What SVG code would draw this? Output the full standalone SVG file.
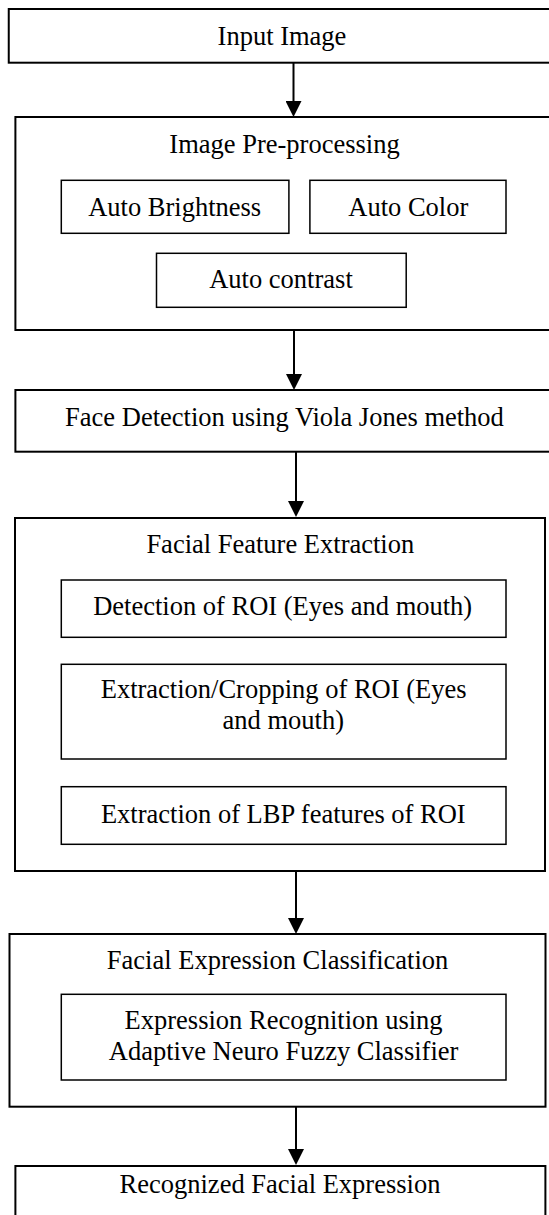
<svg xmlns="http://www.w3.org/2000/svg" width="549" height="1215" viewBox="0 0 549 1215">
<defs>
<style>
.outer{fill:#fff;stroke:#000;stroke-width:2}
.inner{fill:#fff;stroke:#000;stroke-width:1.5}
.t{font-family:"Liberation Serif","Times New Roman",serif;font-size:26.5px;fill:#000;text-anchor:middle}
.conn{stroke:#000;stroke-width:2;fill:none}
</style>
<marker id="ah" markerUnits="userSpaceOnUse" markerWidth="16" markerHeight="16" refX="0" refY="8" orient="auto">
<path d="M0,0 L16,8 L0,16 z" fill="#000"/>
</marker>
</defs>
<rect width="549" height="1215" fill="#fff"/>
<g id="input-image">
<rect class="outer" x="8.75" y="9" width="545" height="53.7"/>
<text class="t" x="282" y="45">Input Image</text>
</g>
<g id="preprocessing">
<rect class="outer" x="15.4" y="117" width="540" height="213"/>
<text class="t" x="284.5" y="152.7">Image Pre-processing</text>
</g>
<g id="auto-brightness">
<rect class="inner" x="61.3" y="180.3" width="227.6" height="53"/>
<text class="t" x="174.7" y="216">Auto Brightness</text>
</g>
<g id="auto-color">
<rect class="inner" x="309.9" y="180.3" width="196.1" height="53"/>
<text class="t" x="408.3" y="216">Auto Color</text>
</g>
<g id="auto-contrast">
<rect class="inner" x="156.5" y="253.3" width="249.7" height="54"/>
<text class="t" x="281" y="288.3">Auto contrast</text>
</g>
<g id="face-detection">
<rect class="outer" x="15.4" y="390" width="540" height="61.7"/>
<text class="t" x="284.5" y="426">Face Detection using Viola Jones method</text>
</g>
<g id="feature-extraction">
<rect class="outer" x="15" y="518" width="530" height="353"/>
<text class="t" x="280.3" y="553.3">Facial Feature Extraction</text>
</g>
<g id="roi-detection">
<rect class="inner" x="61.3" y="580" width="444.7" height="57.3"/>
<text class="t" x="282.7" y="615">Detection of ROI (Eyes and mouth)</text>
</g>
<g id="roi-cropping">
<rect class="inner" x="61.3" y="664.3" width="444.7" height="94.7"/>
<text class="t" x="283.6" y="698.3">Extraction/Cropping of ROI (Eyes</text>
<text class="t" x="283.3" y="729">and mouth)</text>
</g>
<g id="lbp-features">
<rect class="inner" x="61.3" y="786.7" width="444.7" height="57.6"/>
<text class="t" x="283.3" y="823.3">Extraction of LBP features of ROI</text>
</g>
<g id="expression-classification">
<rect class="outer" x="9.5" y="934" width="536" height="172.7"/>
<text class="t" x="277.6" y="969.3">Facial Expression Classification</text>
</g>
<g id="anfc">
<rect class="inner" x="61.3" y="994.3" width="444.7" height="85.7"/>
<text class="t" x="283.6" y="1029.3">Expression Recognition using</text>
<text class="t" x="283.6" y="1060">Adaptive Neuro Fuzzy Classifier</text>
</g>
<g id="recognized-expression">
<rect class="outer" x="15.4" y="1166" width="530" height="60"/>
<text class="t" x="280" y="1192.7">Recognized Facial Expression</text>
</g>
<g id="connectors">
<line class="conn" x1="293.5" y1="62.7" x2="293.5" y2="101" marker-end="url(#ah)"/>
<line class="conn" x1="294" y1="330" x2="294" y2="374" marker-end="url(#ah)"/>
<line class="conn" x1="296" y1="451.7" x2="296" y2="501" marker-end="url(#ah)"/>
<line class="conn" x1="296" y1="871" x2="296" y2="918" marker-end="url(#ah)"/>
<line class="conn" x1="296" y1="1106.7" x2="296" y2="1149" marker-end="url(#ah)"/>
</g>
</svg>
